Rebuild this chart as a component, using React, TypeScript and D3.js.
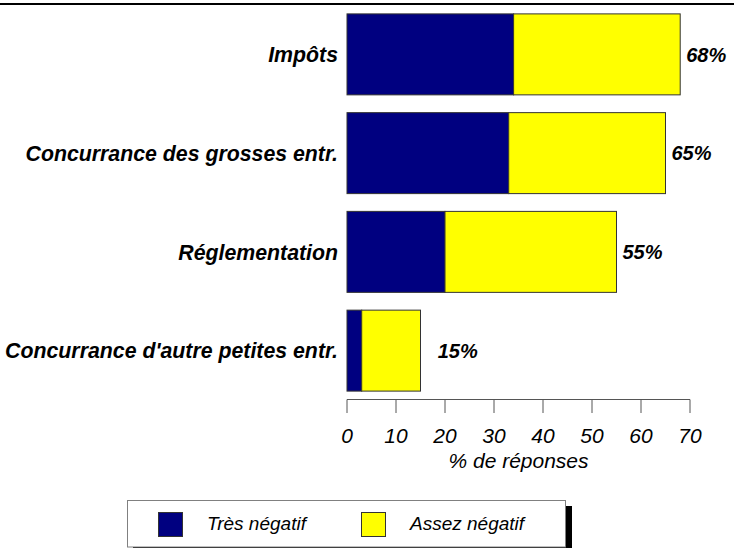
import React from 'react'
import { scaleBand, scaleLinear } from 'd3'

// categories, top to bottom
const categories = [
  'Impôts',
  'Concurrance des grosses entr.',
  'Réglementation',
  "Concurrance d'autre petites entr.",
]
const tresNegatif = [34, 33, 20, 3]
const assezNegatif = [34, 32, 35, 12]
const totalLabels = ['68%', '65%', '55%', '15%']
const seriesNames = ['Très négatif', 'Assez négatif']
const seriesColors = ['#000080', '#FFFF00']
const ticks = [0, 10, 20, 30, 40, 50, 60, 70]

const W = 734
const H = 548
const FONT = '"Liberation Sans", Arial, sans-serif'

const App = () => {
  const x = scaleLinear().domain([0, 70]).range([347, 690])
  const y = scaleBand<string>()
    .domain(categories)
    .range([5, 400])
    .paddingInner(0.18)
    .paddingOuter(0.09)

  const axisY = 399.5

  return (
    <svg
      width={W}
      height={H}
      style={{ position: 'absolute', left: 0, top: 0, fontFamily: FONT, background: '#fff' }}
    >
      {/* top rule */}
      <rect x={0} y={3} width={W} height={2} fill="#000" />

      {categories.map((c, i) => {
        const y0 = y(c) as number
        const bw = y.bandwidth()
        const a = tresNegatif[i]
        const b = assezNegatif[i]
        // short bars get their label a bit further out, as in the original
        const labelX = Math.max(x(a + b) + 6, x(18.5))
        return (
          <g key={c}>
            <rect x={x(0)} y={y0} width={x(a) - x(0)} height={bw}
              fill={seriesColors[0]} stroke="#333" strokeWidth={1} />
            <rect x={x(a)} y={y0} width={x(a + b) - x(a)} height={bw}
              fill={seriesColors[1]} stroke="#333" strokeWidth={1} />
            <text x={x(0) - 9} y={y0 + bw / 2} dy="0.36em" textAnchor="end"
              fontSize={21.3} fontWeight="bold" fontStyle="italic">{c}</text>
            <text x={labelX} y={y0 + bw / 2} dy="0.36em"
              fontSize={20} fontWeight="bold" fontStyle="italic">{totalLabels[i]}</text>
          </g>
        )
      })}

      {/* x axis */}
      <line x1={x(0)} x2={x(70)} y1={axisY} y2={axisY} stroke="#555" strokeWidth={1} />
      {ticks.map(t => (
        <g key={t}>
          <line x1={x(t)} x2={x(t)} y1={axisY} y2={413} stroke="#555" strokeWidth={1} />
          <text x={x(t)} y={443} textAnchor="middle" fontSize={21} fontStyle="italic">{t}</text>
        </g>
      ))}
      <text x={(x(0) + x(70)) / 2} y={468} textAnchor="middle" fontSize={21} fontStyle="italic">
        % de réponses
      </text>

      {/* legend */}
      <rect x={133} y={506} width={439} height={48} fill="#000" />
      <rect x={127.5} y={500.5} width={438} height={46.5} fill="#fff" stroke="#808080" strokeWidth={1} />
      {seriesNames.map((s, i) => (
        <g key={s} transform={`translate(${158 + i * 203}, 512)`}>
          <rect x={0.5} y={0.5} width={24} height={24} fill={seriesColors[i]} stroke="#333" strokeWidth={1} />
          <text x={49} y={18} fontSize={19} fontStyle="italic">{s}</text>
        </g>
      ))}
    </svg>
  )
}

export default App
